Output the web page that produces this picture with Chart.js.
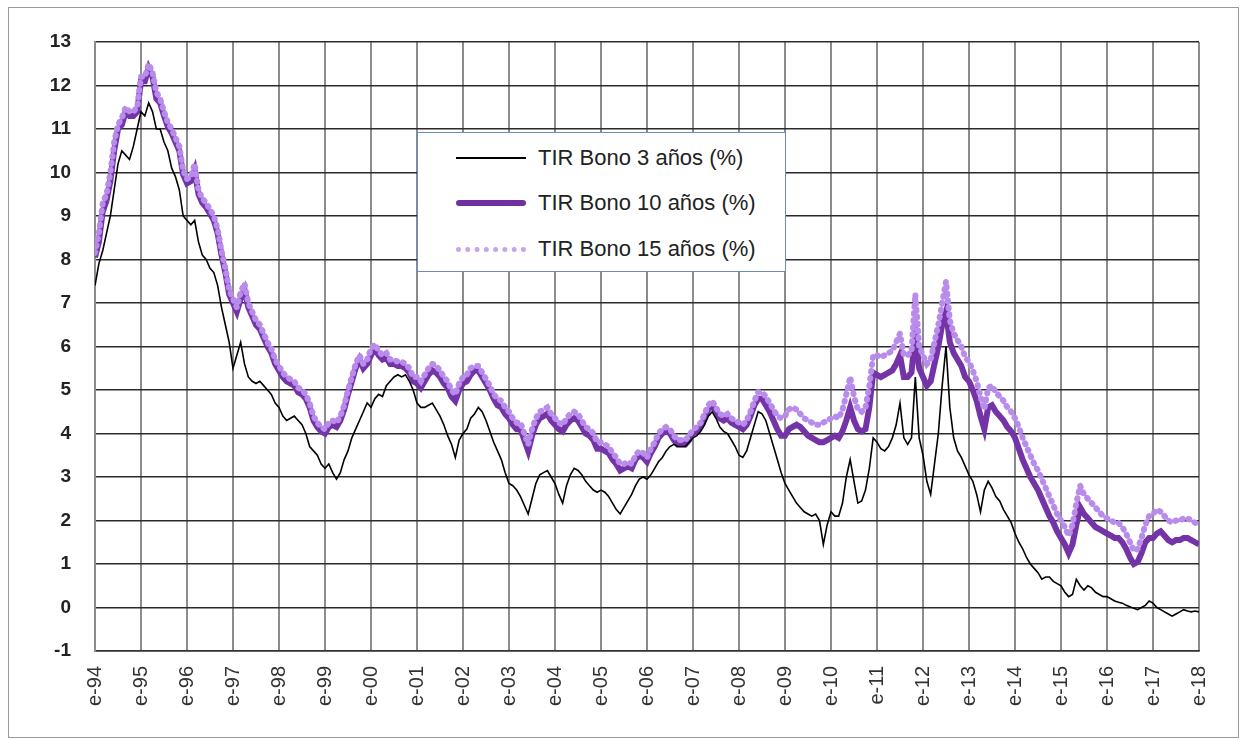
<!DOCTYPE html>
<html>
<head>
<meta charset="utf-8">
<script src="https://cdn.jsdelivr.net/npm/chart.js@4.4.1/dist/chart.umd.min.js"></script>
<style>
  body { margin: 0; background: #fff; }
  #wrap { position: relative; width: 1243px; height: 740px; }
  #frame { position: absolute; left: 8px; top: 7px; width: 1229px; height: 729px; border: 1px solid #9a9a9a; pointer-events: none; }
  #legend { position: absolute; left: 417px; top: 132px; width: 367px; height: 138px; border: 1px solid #6f8db4; background: #fff;
            font-family: "Liberation Sans", Arial, sans-serif; font-size: 22px; color: #222; }
  .row { position: absolute; left: 0; height: 30px; display: flex; align-items: center; }
  .sample { width: 70px; margin-left: 38px; margin-right: 12px; }
  .s3 { border-top: 2px solid #000; }
  .s10 { height: 6px; border-radius: 3px; background: #7030a0; }
  .s15 { border-top: 5px dotted #c7a4ee; }
</style>
</head>
<body>
<div id="wrap">
  <canvas id="c" width="1243" height="740"></canvas>
  <div id="frame"></div>
  <div id="legend">
    <div class="row" style="top:10px"><span class="sample s3"></span><span>TIR Bono 3 años (%)</span></div>
    <div class="row" style="top:55px"><span class="sample s10"></span><span>TIR Bono 10 años (%)</span></div>
    <div class="row" style="top:101px"><span class="sample s15"></span><span>TIR Bono 15 años (%)</span></div>
  </div>
</div>
<script>
// monthly readings, Jan-1994 .. Jan-2018
const bono3 = [
  7.4, 7.9, 8.2, 8.6, 9.0, 9.6, 10.2, 10.5, 10.4, 10.3, 10.6, 11.0,
  11.4, 11.3, 11.6, 11.4, 11.0, 11.0, 10.7, 10.5, 10.1, 9.9, 9.6, 9.0,
  8.9, 8.8, 8.9, 8.4, 8.1, 8.0, 7.8, 7.7, 7.4, 6.9, 6.5, 6.1,
  5.5, 5.8, 6.1, 5.6, 5.3, 5.2, 5.15, 5.2, 5.1, 5.0, 4.9, 4.7,
  4.6, 4.4, 4.3, 4.35, 4.4, 4.3, 4.2, 4.0, 3.7, 3.6, 3.5, 3.3,
  3.2, 3.3, 3.1, 2.95, 3.1, 3.4, 3.6, 3.9, 4.1, 4.3, 4.5, 4.7,
  4.6, 4.8, 4.9, 4.85, 5.1, 5.2, 5.3, 5.35, 5.3, 5.35, 5.2, 5.0,
  4.7, 4.6, 4.6, 4.65, 4.7, 4.55, 4.4, 4.2, 3.95, 3.75, 3.45, 3.85,
  4.0, 4.1, 4.35, 4.45, 4.6, 4.5, 4.3, 4.05, 3.8, 3.6, 3.4, 3.1,
  2.85, 2.8, 2.7, 2.55, 2.35, 2.15, 2.5, 2.85, 3.05, 3.1, 3.15, 3.0,
  2.85, 2.6, 2.4, 2.8, 3.05, 3.2, 3.15, 3.05, 2.9, 2.8, 2.7, 2.65,
  2.7, 2.65, 2.55, 2.4, 2.25, 2.15, 2.3, 2.45, 2.6, 2.8, 2.95, 3.0,
  2.95, 3.05, 3.2, 3.35, 3.45, 3.6, 3.7, 3.75, 3.7, 3.7, 3.7, 3.8,
  3.9, 3.95, 4.05, 4.2, 4.4, 4.5, 4.35, 4.15, 4.05, 4.0, 3.85, 3.7,
  3.5, 3.45, 3.6, 3.9, 4.2, 4.5, 4.45, 4.3, 4.0, 3.7, 3.4, 3.1,
  2.85, 2.7, 2.55, 2.4, 2.3, 2.2, 2.15, 2.1, 2.15, 2.0, 1.45, 1.9,
  2.2, 2.1, 2.1, 2.4, 3.0, 3.4, 2.9, 2.4, 2.45, 2.7, 3.2, 3.9,
  3.8, 3.65, 3.6, 3.7, 3.9, 4.2, 4.7, 3.9, 3.75, 3.9, 5.3, 3.9,
  3.5, 2.9, 2.6, 3.3, 4.0, 5.1, 6.0, 4.6, 3.9, 3.6, 3.45, 3.25,
  3.05, 2.9, 2.6, 2.2, 2.7, 2.9, 2.75, 2.55, 2.45, 2.25, 2.1, 1.95,
  1.7, 1.5, 1.35, 1.15, 1.0, 0.9, 0.8, 0.65, 0.7, 0.7, 0.6, 0.55,
  0.5, 0.35, 0.25, 0.3, 0.65, 0.5, 0.4, 0.5, 0.45, 0.35, 0.3, 0.25,
  0.25, 0.2, 0.15, 0.12, 0.1, 0.05, 0.02, -0.02, -0.05, 0.0, 0.05, 0.15,
  0.1, 0.0, -0.05, -0.1, -0.15, -0.2, -0.15, -0.1, -0.05, -0.08, -0.1, -0.08,
  -0.1
];

const bono10 = [
  8.05, 8.4, 9.1, 9.35, 9.8, 10.5, 11.0, 11.1, 11.4, 11.3, 11.3, 11.4,
  12.1, 12.1, 12.4, 12.2, 11.7, 11.6, 11.3, 11.05, 10.9, 10.7, 10.5, 9.95,
  9.75, 9.8, 10.05, 9.5, 9.3, 9.2, 9.05, 8.9, 8.6, 8.1, 7.7, 7.2,
  7.0, 6.8, 7.1, 7.3, 6.9, 6.7, 6.5, 6.4, 6.2, 6.0, 5.85, 5.6,
  5.45, 5.3, 5.2, 5.15, 5.1, 4.95, 4.9, 4.8, 4.6, 4.3, 4.15, 4.05,
  4.0, 4.15, 4.2, 4.15, 4.3, 4.55, 4.9, 5.2, 5.5, 5.7, 5.5, 5.6,
  5.8, 5.95, 5.8, 5.7, 5.75, 5.6, 5.6, 5.55, 5.55, 5.5, 5.4, 5.2,
  5.15, 5.05, 5.2, 5.35, 5.45, 5.4, 5.3, 5.15, 5.05, 4.85, 4.75, 5.0,
  5.15, 5.2, 5.35, 5.45, 5.45, 5.3, 5.15, 5.0, 4.8, 4.65, 4.6, 4.45,
  4.35, 4.2, 4.1, 4.1, 3.85, 3.6, 3.95, 4.2, 4.35, 4.4, 4.45, 4.3,
  4.2, 4.1, 4.05, 4.2, 4.3, 4.35, 4.3, 4.15, 4.0, 3.95, 3.85, 3.65,
  3.65, 3.6, 3.55, 3.4, 3.3, 3.15, 3.2, 3.25, 3.2, 3.4, 3.5, 3.45,
  3.35, 3.55, 3.7, 3.9, 4.0, 4.05, 4.0, 3.85, 3.75, 3.75, 3.75, 3.85,
  4.0, 4.05, 4.15, 4.35, 4.55, 4.65, 4.5, 4.35, 4.3, 4.35, 4.25, 4.2,
  4.15, 4.1, 4.2, 4.4, 4.65, 4.8, 4.8, 4.65, 4.5, 4.3, 4.1, 3.95,
  3.95, 4.1, 4.15, 4.2, 4.15, 4.05, 3.95, 3.9, 3.85, 3.8, 3.8, 3.85,
  3.9, 3.95, 3.9, 4.05, 4.3, 4.6, 4.3, 4.1, 4.05, 4.1, 4.6, 5.4,
  5.35, 5.3, 5.35, 5.4, 5.45, 5.6, 5.8, 5.3, 5.3, 5.4, 6.3, 5.5,
  5.3, 5.1, 5.2, 5.6, 6.0, 6.5, 6.8, 6.1, 5.85, 5.7, 5.55, 5.3,
  5.2, 5.0, 4.75, 4.4, 4.1, 4.6, 4.65, 4.5, 4.4, 4.3, 4.15, 4.05,
  3.9, 3.65, 3.4, 3.2, 3.0, 2.85, 2.7, 2.5, 2.3, 2.1, 1.95, 1.75,
  1.6, 1.45, 1.25, 1.45, 1.9, 2.3, 2.15, 2.05, 1.95, 1.85, 1.8, 1.75,
  1.7, 1.65, 1.6, 1.6, 1.5, 1.35, 1.15, 1.0, 1.05, 1.25, 1.5, 1.6,
  1.6, 1.7, 1.75, 1.65, 1.55, 1.5, 1.55, 1.55, 1.6, 1.6, 1.55, 1.5,
  1.45
];

const bono15 = [
  8.15, 8.6, 9.3, 9.5, 10.0, 10.7, 11.1, 11.25, 11.5, 11.4, 11.4, 11.5,
  12.2, 12.2, 12.5, 12.3, 11.85, 11.7, 11.4, 11.15, 11.0, 10.8, 10.6, 10.05,
  9.85, 9.9, 10.2, 9.6, 9.4, 9.3, 9.15, 9.0, 8.7, 8.2, 7.8, 7.3,
  7.1, 6.9, 7.25, 7.45, 7.0, 6.8, 6.6, 6.5, 6.3, 6.1, 5.95, 5.7,
  5.55, 5.4, 5.3, 5.25, 5.2, 5.05, 5.0, 4.9, 4.7, 4.4, 4.25, 4.15,
  4.1, 4.25, 4.3, 4.25, 4.4, 4.65, 5.0, 5.3, 5.6, 5.8, 5.6, 5.7,
  5.95, 6.05, 5.9, 5.8, 5.85, 5.7, 5.7, 5.65, 5.65, 5.6, 5.5, 5.3,
  5.3, 5.2, 5.35, 5.5, 5.6, 5.55, 5.45, 5.3, 5.2, 5.0, 4.9, 5.15,
  5.3, 5.35, 5.5, 5.55, 5.55, 5.4, 5.25, 5.1, 4.9, 4.8, 4.75, 4.6,
  4.5, 4.35, 4.25, 4.25, 4.0, 3.75, 4.1, 4.35, 4.5, 4.55, 4.6, 4.45,
  4.35, 4.25, 4.2, 4.35, 4.45, 4.5, 4.45, 4.3, 4.15, 4.1, 4.0, 3.8,
  3.8, 3.75, 3.7, 3.55, 3.45, 3.3, 3.3, 3.35, 3.3, 3.5, 3.6, 3.55,
  3.45, 3.65, 3.8, 4.0, 4.1, 4.15, 4.1, 3.95, 3.85, 3.85, 3.85, 3.95,
  4.1, 4.15, 4.25, 4.45, 4.65, 4.75, 4.6, 4.45, 4.4, 4.45, 4.35, 4.3,
  4.25, 4.2, 4.3, 4.5, 4.75, 4.95, 4.95, 4.85, 4.7, 4.55, 4.4, 4.35,
  4.4, 4.55, 4.6, 4.55, 4.45, 4.35, 4.3, 4.25, 4.2, 4.2, 4.25, 4.3,
  4.35, 4.4, 4.35, 4.55, 4.9, 5.3, 4.85, 4.55, 4.5, 4.6, 5.1, 5.8,
  5.8, 5.75, 5.8, 5.85, 5.9, 6.1, 6.3, 5.8, 5.8, 5.9, 7.2, 6.0,
  5.8, 5.6, 5.7, 6.1, 6.5, 7.0, 7.5, 6.6, 6.3, 6.15, 6.0, 5.75,
  5.65, 5.45, 5.2, 4.85, 4.55, 5.05, 5.1, 4.95, 4.85, 4.75, 4.6, 4.5,
  4.35, 4.15, 3.9, 3.7, 3.5, 3.3, 3.15, 2.95, 2.75, 2.55, 2.35, 2.15,
  2.0, 1.85, 1.65, 1.9, 2.4, 2.8, 2.6, 2.5, 2.4, 2.3, 2.2, 2.1,
  2.05, 2.0, 1.95, 1.95, 1.85, 1.7, 1.5, 1.3, 1.35, 1.6, 1.9, 2.1,
  2.15, 2.25, 2.2, 2.1, 2.0, 1.95, 2.0, 2.0, 2.05, 2.05, 2.0, 1.95,
  1.9
];

const firstYear = 94;
const yMin = -1;
const yMax = 13;

function toPoints(arr) {
  return arr.map((v, i) => ({ x: i, y: v }));
}

function yearLabel(value) {
  const yy = (firstYear + value / 12) % 100;
  return "e-" + String(yy).padStart(2, "0");
}

new Chart(document.getElementById("c"), {
  type: "line",
  data: {
    datasets: [
      { label: "TIR Bono 3 años (%)", data: toPoints(bono3), borderColor: "#000", borderWidth: 1.6, pointRadius: 0 },
      { label: "TIR Bono 15 años (%)", data: toPoints(bono15), borderColor: "#b98cec", borderWidth: 6, borderDash: [1, 6], borderCapStyle: "round", pointRadius: 0 },
      { label: "TIR Bono 10 años (%)", data: toPoints(bono10), borderColor: "#7434a8", borderWidth: 6, pointRadius: 0 }
    ]
  },
  options: {
    responsive: false,
    animation: false,
    layout: { padding: { left: 0, top: 42, right: 44, bottom: 0 } },
    plugins: { legend: { display: false }, tooltip: { enabled: false } },
    scales: {
      x: {
        type: "linear",
        min: 0,
        max: bono3.length - 1,
        afterFit: s => { s.height = 89; },
        grid: { color: "#8c8c8c", lineWidth: 2, drawTicks: false },
        border: { color: "#333", width: 1.5 },
        ticks: {
          stepSize: 12,
          autoSkip: false,
          minRotation: 90,
          maxRotation: 90,
          padding: 15,
          color: "#333",
          font: { family: "'Liberation Sans', Arial, sans-serif", size: 20 },
          callback: v => yearLabel(v)
        }
      },
      y: {
        min: yMin,
        max: yMax,
        afterFit: s => { s.width = 95; },
        grid: { color: "#2b2b2b", lineWidth: 1.6, drawTicks: false },
        border: { color: "#8c8c8c", width: 2 },
        ticks: {
          stepSize: 1,
          padding: 24,
          color: "#222",
          font: { family: "'Liberation Sans', Arial, sans-serif", size: 19, weight: "bold" }
        }
      }
    }
  }
});
</script>
</body>
</html>
